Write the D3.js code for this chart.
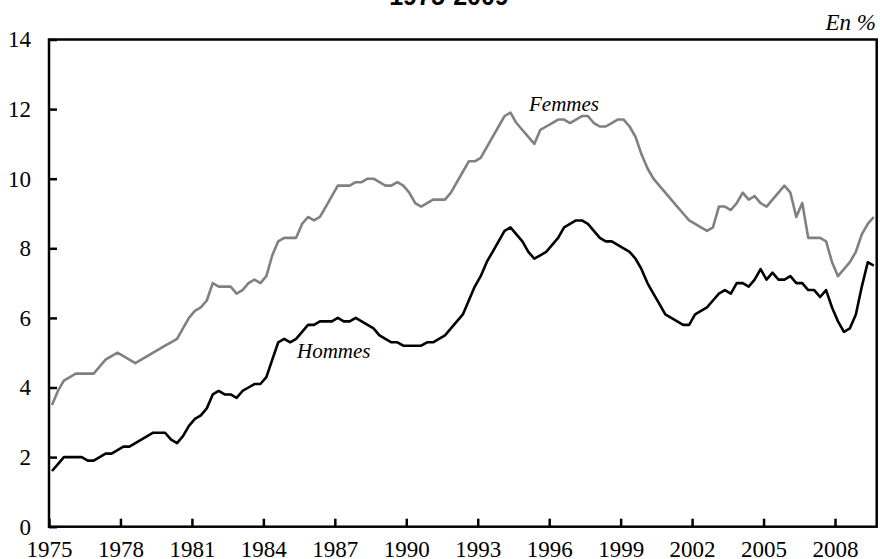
<!DOCTYPE html>
<html>
<head>
<meta charset="utf-8">
<script src="https://cdn.jsdelivr.net/npm/d3@7"></script>
<style>
  body { margin: 0; background: #fff; }
  svg { display: block; }
  .tick text { font-family: "Liberation Serif", "Times New Roman", serif; font-size: 23px; fill: #000; }
</style>
</head>
<body>
<svg></svg>
<script>
// chomage trimestriel 1975T1 - 2009T3, en %
const hommes = [
    1.6, 1.8, 2.0, 2.0, 2.0, 2.0, 1.9, 1.9, 2.0, 2.1, 2.1, 2.2, 2.3, 2.3, 2.4, 2.5, 2.6, 2.7, 2.7, 2.7,
    2.5, 2.4, 2.6, 2.9, 3.1, 3.2, 3.4, 3.8, 3.9, 3.8, 3.8, 3.7, 3.9, 4.0, 4.1, 4.1, 4.3, 4.8, 5.3, 5.4,
    5.3, 5.4, 5.6, 5.8, 5.8, 5.9, 5.9, 5.9, 6.0, 5.9, 5.9, 6.0, 5.9, 5.8, 5.7, 5.5, 5.4, 5.3, 5.3, 5.2,
    5.2, 5.2, 5.2, 5.3, 5.3, 5.4, 5.5, 5.7, 5.9, 6.1, 6.5, 6.9, 7.2, 7.6, 7.9, 8.2, 8.5, 8.6, 8.4, 8.2,
    7.9, 7.7, 7.8, 7.9, 8.1, 8.3, 8.6, 8.7, 8.8, 8.8, 8.7, 8.5, 8.3, 8.2, 8.2, 8.1, 8.0, 7.9, 7.7, 7.4,
    7.0, 6.7, 6.4, 6.1, 6.0, 5.9, 5.8, 5.8, 6.1, 6.2, 6.3, 6.5, 6.7, 6.8, 6.7, 7.0, 7.0, 6.9, 7.1, 7.4,
    7.1, 7.3, 7.1, 7.1, 7.2, 7.0, 7.0, 6.8, 6.8, 6.6, 6.8, 6.3, 5.9, 5.6, 5.7, 6.1, 6.9, 7.6, 7.5
];
const femmes = [
    3.5, 3.9, 4.2, 4.3, 4.4, 4.4, 4.4, 4.4, 4.6, 4.8, 4.9, 5.0, 4.9, 4.8, 4.7, 4.8, 4.9, 5.0, 5.1, 5.2,
    5.3, 5.4, 5.7, 6.0, 6.2, 6.3, 6.5, 7.0, 6.9, 6.9, 6.9, 6.7, 6.8, 7.0, 7.1, 7.0, 7.2, 7.8, 8.2, 8.3,
    8.3, 8.3, 8.7, 8.9, 8.8, 8.9, 9.2, 9.5, 9.8, 9.8, 9.8, 9.9, 9.9, 10.0, 10.0, 9.9, 9.8, 9.8, 9.9, 9.8,
    9.6, 9.3, 9.2, 9.3, 9.4, 9.4, 9.4, 9.6, 9.9, 10.2, 10.5, 10.5, 10.6, 10.9, 11.2, 11.5, 11.8, 11.9, 11.6, 11.4,
    11.2, 11.0, 11.4, 11.5, 11.6, 11.7, 11.7, 11.6, 11.7, 11.8, 11.8, 11.6, 11.5, 11.5, 11.6, 11.7, 11.7, 11.5, 11.2, 10.7,
    10.3, 10.0, 9.8, 9.6, 9.4, 9.2, 9.0, 8.8, 8.7, 8.6, 8.5, 8.6, 9.2, 9.2, 9.1, 9.3, 9.6, 9.4, 9.5, 9.3,
    9.2, 9.4, 9.6, 9.8, 9.6, 8.9, 9.3, 8.3, 8.3, 8.3, 8.2, 7.6, 7.2, 7.4, 7.6, 7.9, 8.4, 8.7, 8.9
];
const startYear = 1975;
const xTicks = [1975, 1978, 1981, 1984, 1987, 1990, 1993, 1996, 1999, 2002, 2005, 2008];
const yTicks = [0, 2, 4, 6, 8, 10, 12, 14];

// each quarter sits in the middle of its slot
const quarters = hommes.map((_, i) => startYear + (i + 0.5) / 4);

const size = {w: 880, h: 559};
const margin = {t: 39.5, r: 3.3, b: 32.3, l: 49};
const svg = d3.select('svg')
    .attr('width', size.w)
    .attr('height', size.h);

const x = d3.scaleLinear()
    .domain([startYear, startYear + hommes.length / 4])
    .range([margin.l, size.w - margin.r]);
const y = d3.scaleLinear()
    .domain([0, 14])
    .range([size.h - margin.b, margin.t]);

// title, mostly cut off by the top edge
svg.append('text')
    .attr('x', 449)
    .attr('y', 5)
    .attr('text-anchor', 'middle')
    .style('font-family', '"Liberation Sans", Arial, sans-serif')
    .style('font-weight', 'bold')
    .style('font-size', '25px')
    .text('1975-2009');

svg.append('text')
    .attr('x', 876)
    .attr('y', 30)
    .attr('text-anchor', 'end')
    .style('font-family', '"Liberation Serif", serif')
    .style('font-style', 'italic')
    .style('font-size', '23px')
    .text('En %');

let line = d3.line()
    .x((d, i) => x(quarters[i]))
    .y(d => y(d));

svg.append('path')
    .datum(femmes)
    .attr('d', line)
    .attr('fill', 'none')
    .attr('stroke', '#808080')
    .attr('stroke-width', 2.6)
    .attr('stroke-linejoin', 'round');

svg.append('path')
    .datum(hommes)
    .attr('d', line)
    .attr('fill', 'none')
    .attr('stroke', '#000')
    .attr('stroke-width', 2.6)
    .attr('stroke-linejoin', 'round');

// axes with inner ticks
let xAxis = svg.append('g')
    .attr('transform', 'translate(0,' + y(0) + ')')
    .call(d3.axisBottom(x)
        .tickValues(xTicks)
        .tickSizeInner(-8)
        .tickSizeOuter(0)
        .tickPadding(14)
        .tickFormat(d3.format('d')));

let yAxis = svg.append('g')
    .attr('transform', 'translate(' + x(startYear) + ',0)')
    .call(d3.axisLeft(y)
        .tickValues(yTicks)
        .tickSizeInner(-8)
        .tickSizeOuter(0)
        .tickPadding(18));

[xAxis, yAxis].forEach(g => {
    g.select('.domain').remove();
    g.selectAll('.tick line').attr('stroke', '#000').attr('stroke-width', 2.5);
});

// frame round the plot
svg.append('rect')
    .attr('x', margin.l)
    .attr('y', margin.t)
    .attr('width', size.w - margin.r - margin.l)
    .attr('height', size.h - margin.b - margin.t)
    .attr('fill', 'none')
    .attr('stroke', '#000')
    .attr('stroke-width', 2.5);

svg.append('text')
    .attr('x', 529)
    .attr('y', 111)
    .style('font-family', '"Liberation Serif", serif')
    .style('font-style', 'italic')
    .style('font-size', '21px')
    .text('Femmes');

svg.append('text')
    .attr('x', 297)
    .attr('y', 358)
    .style('font-family', '"Liberation Serif", serif')
    .style('font-style', 'italic')
    .style('font-size', '21px')
    .text('Hommes');
</script>
</body>
</html>
